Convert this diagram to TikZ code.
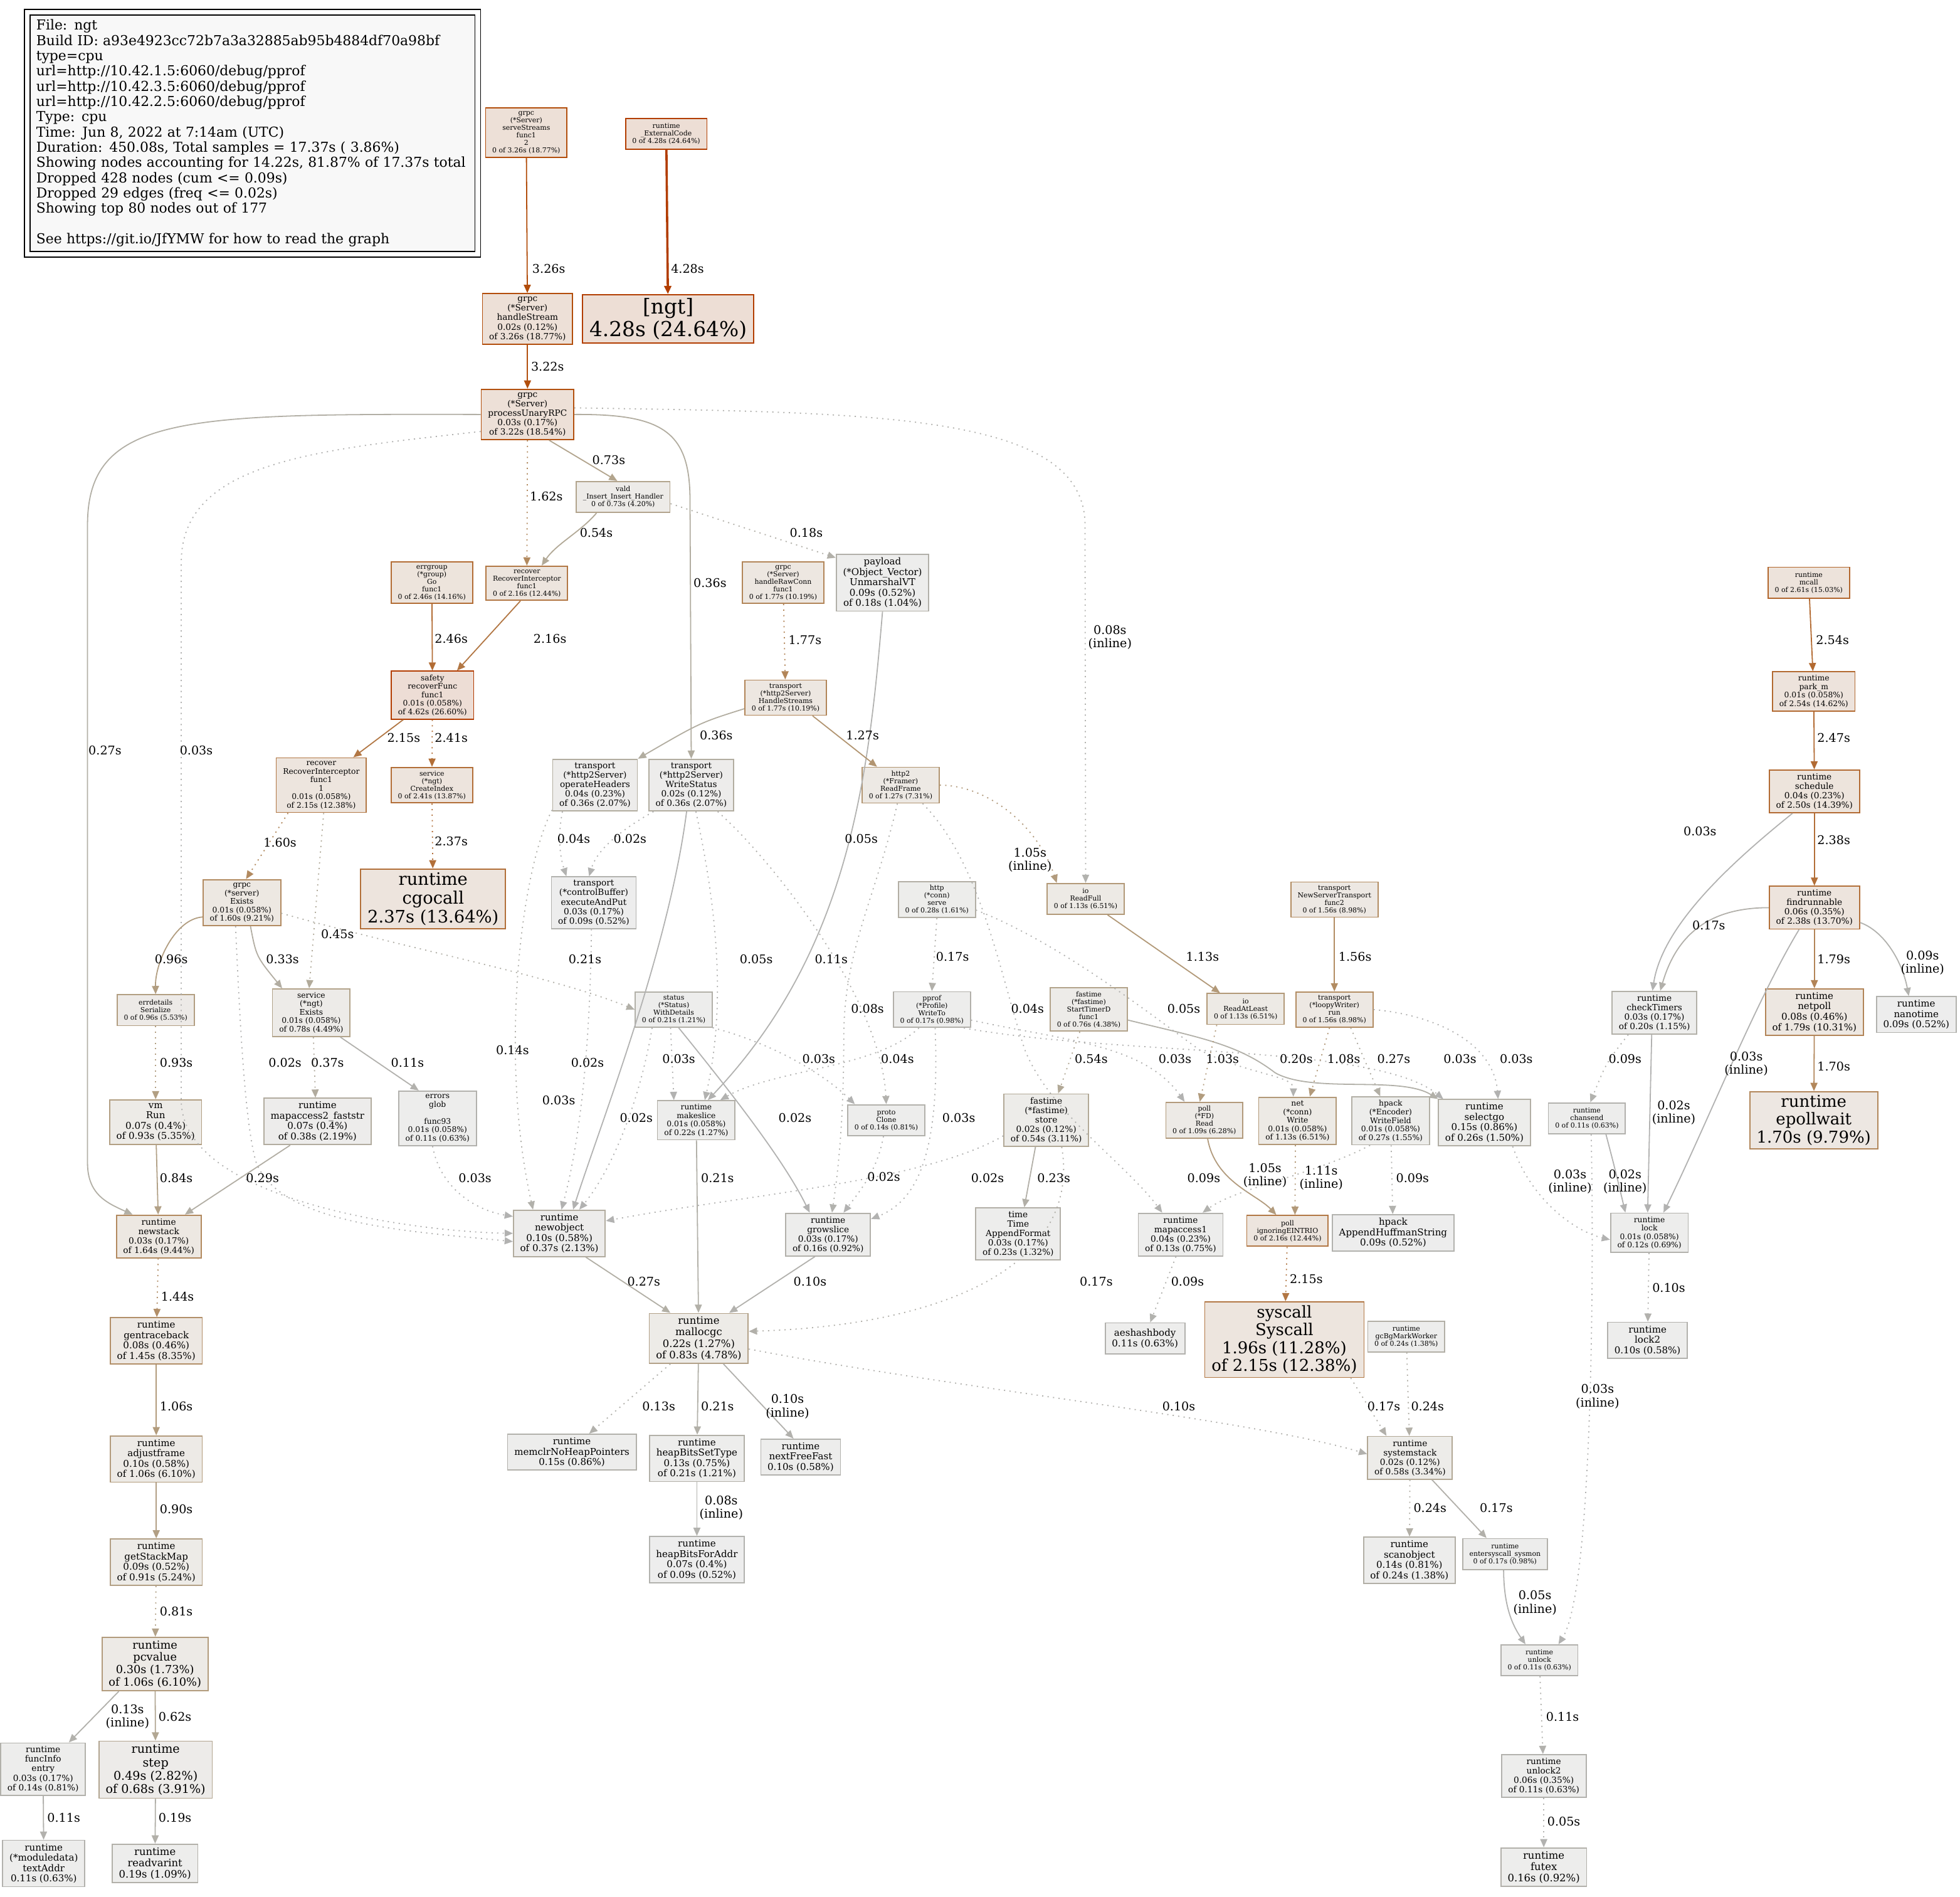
\documentclass[tikz,border=0pt]{standalone}
\usepackage{fontspec}
\setmainfont{DejaVu Serif}
\usetikzlibrary{arrows.meta}
\definecolor{legfill}{HTML}{F8F8F8}
\newcommand\pcolor[3]{%
  \pgfmathsetmacro\pcS{max(0.00001,min(1,#2))}%
  \ifnum#3=1 \def\pcSat{0.1}\def\pcVal{0.93}\else\def\pcSat{1}\def\pcVal{0.7}\fi
  \pgfmathsetmacro\pcSe{\pcS<0.2 ? \pcSat*\pcS/0.2 : \pcSat}%
  \pgfmathsetmacro\pcSh{exp(0.3*ln(\pcS))}%
  \pgfmathsetmacro\pcG{\pcVal*(1-\pcSe*\pcSh)}%
  \pgfmathsetmacro\pcB{\pcVal*(1-\pcSe)}%
  \edef\pcTmp{\noexpand\definecolor{#1}{rgb}{\pcVal,\pcG,\pcB}}\pcTmp}
\newcommand\gnode[8]{%
  \pcolor{bg#1}{#7/17.37}{1}\pcolor{fg#1}{#7/17.37}{0}%
  \pgfmathsetmacro\gnF{#6*0.343}\pgfmathsetmacro\gnB{#6*0.343*1.1}%
  \node[gbox, draw=fg#1, fill=bg#1, font=\fontsize{\gnF}{\gnB}\selectfont] (#1) at (#2,#3) {#8};}
\tikzset{
  gbox/.style={rectangle, inner xsep=2.7pt, inner ysep=1.36pt, minimum width=18.5pt, minimum height=12.35pt, align=center, line width=0.45pt, text=black},
  gedge/.style={-{Triangle[length=3.3pt,width=2.8pt]}, line width=0.45pt},
  dotl/.style={dash pattern=on 0.5pt off 1.7pt},
  ew/.code={\pcolor{ecolor}{#1/17.37}{0}\pgfkeysalso{draw=ecolor}},
  elab/.style={inner sep=0pt, align=center, font=\fontsize{4.8}{5.3}\selectfont}
}
\begin{document}
\begin{tikzpicture}[x=0.5pt,y=-0.5pt]
\fill[white] (0,0) rectangle (1568,1517);
\useasboundingbox (0,0) rectangle (1568,1517);
% legend
\node[draw, fill=legfill, line width=0.45pt, minimum width=178pt, minimum height=94.5pt, text width=173pt, align=left, inner sep=0pt, font=\fontsize{5.49}{6.1}\selectfont] (legend) at (202,106.5) {File: ngt\\Build ID: a93e4923cc72b7a3a32885ab95b4884df70a98bf\\type=cpu\\url=http://10.42.1.5:6060/debug/pprof\\url=http://10.42.3.5:6060/debug/pprof\\url=http://10.42.2.5:6060/debug/pprof\\Type: cpu\\Time: Jun 8, 2022 at 7:14am (UTC)\\Duration: 450.08s, Total samples = 17.37s ( 3.86\%)\\Showing nodes accounting for 14.22s, 81.87\% of 17.37s total\\Dropped 428 nodes (cum <= 0.09s)\\Dropped 29 edges (freq <= 0.02s)\\Showing top 80 nodes out of 177\\\mbox{}\\See https://git.io/JfYMW for how to read the graph};
\draw[line width=0.45pt] ([shift={(-4,-4)}]legend.north west) rectangle ([shift={(4,4)}]legend.south east);
% nodes
\gnode{ss}{421}{106}{64}{41}{8}{3.26}{grpc\\(*Server)\\serveStreams\\func1\\2\\0 of 3.26s (18.77\%)}
\gnode{ec}{533}{107}{64}{24}{8}{4.28}{runtime\\\_ExternalCode\\0 of 4.28s (24.64\%)}
\gnode{ngt}{534.5}{255}{131}{42}{24}{4.28}{[ngt]\\4.28s (24.64\%)}
\gnode{hs}{422}{255}{70}{42}{10}{3.26}{grpc\\(*Server)\\handleStream\\0.02s (0.12\%)\\of 3.26s (18.77\%)}
\gnode{pur}{422}{331.5}{72}{43}{10}{3.22}{grpc\\(*Server)\\processUnaryRPC\\0.03s (0.17\%)\\of 3.22s (18.54\%)}
\gnode{vald}{498.5}{397.5}{71}{25}{8}{0.73}{vald\\\_Insert\_Insert\_Handler\\0 of 0.73s (4.20\%)}
\gnode{eg}{345.5}{466}{63}{36}{8}{2.46}{errgroup\\(*group)\\Go\\func1\\0 of 2.46s (14.16\%)}
\gnode{rec}{421.5}{466.5}{63}{29}{8}{2.16}{recover\\RecoverInterceptor\\func1\\0 of 2.16s (12.44\%)}
\gnode{hrc}{626.5}{466}{63}{36}{8}{1.77}{grpc\\(*Server)\\handleRawConn\\func1\\0 of 1.77s (10.19\%)}
\gnode{pay}{706}{466}{72}{46}{11}{0.18}{payload\\(*Object\_Vector)\\UnmarshalVT\\0.09s (0.52\%)\\of 0.18s (1.04\%)}
\gnode{mcall}{1447}{466}{64}{24}{8}{2.61}{runtime\\mcall\\0 of 2.61s (15.03\%)}
\gnode{saf}{346}{556}{66}{41}{9}{4.62}{safety\\recoverFunc\\func1\\0.01s (0.058\%)\\of 4.62s (26.60\%)}
\gnode{hst}{628.5}{558}{63}{30}{8}{1.77}{transport\\(*http2Server)\\HandleStreams\\0 of 1.77s (10.19\%)}
\gnode{park}{1451}{553}{65}{33}{9}{2.54}{runtime\\park\_m\\0.01s (0.058\%)\\of 2.54s (14.62\%)}
\gnode{ci}{345.5}{628}{63}{30}{8}{2.41}{service\\(*ngt)\\CreateIndex\\0 of 2.41s (13.87\%)}
\gnode{rec1}{257}{628}{72}{46}{9}{2.15}{recover\\RecoverInterceptor\\func1\\1\\0.01s (0.058\%)\\of 2.15s (12.38\%)}
\gnode{oh}{476}{628}{66}{42}{10}{0.36}{transport\\(*http2Server)\\operateHeaders\\0.04s (0.23\%)\\of 0.36s (2.07\%)}
\gnode{ws}{553}{628}{64}{42}{10}{0.36}{transport\\(*http2Server)\\WriteStatus\\0.02s (0.12\%)\\of 0.36s (2.07\%)}
\gnode{rf}{720.5}{628}{59}{30}{8}{1.27}{http2\\(*Framer)\\ReadFrame\\0 of 1.27s (7.31\%)}
\gnode{sch}{1451.5}{633}{65}{43}{10}{2.50}{runtime\\schedule\\0.04s (0.23\%)\\of 2.50s (14.39\%)}
\gnode{cgo}{346.5}{719}{113}{52}{20}{2.37}{runtime\\cgocall\\2.37s (13.64\%)}
\gnode{eap}{475}{722}{68}{46}{10}{0.09}{transport\\(*controlBuffer)\\executeAndPut\\0.03s (0.17\%)\\of 0.09s (0.52\%)}
\gnode{http}{749.5}{719.5}{59}{29}{8}{0.28}{http\\(*conn)\\serve\\0 of 0.28s (1.61\%)}
\gnode{rfull}{868.5}{719}{59}{24}{8}{1.13}{io\\ReadFull\\0 of 1.13s (6.51\%)}
\gnode{nst}{1067.5}{719.5}{67}{29}{8}{1.56}{transport\\NewServerTransport\\func2\\0 of 1.56s (8.98\%)}
\gnode{fr}{1451.5}{726}{69}{44}{10}{2.38}{runtime\\findrunnable\\0.06s (0.35\%)\\of 2.38s (13.70\%)}
\gnode{gex}{193.5}{722}{63}{38}{9}{1.60}{grpc\\(*server)\\Exists\\0.01s (0.058\%)\\of 1.60s (9.21\%)}
\gnode{errd}{124.5}{808}{59}{22}{8}{0.96}{errdetails\\Serialize\\0 of 0.96s (5.53\%)}
\gnode{sex}{249}{810}{62}{40}{9}{0.78}{service\\(*ngt)\\Exists\\0.01s (0.058\%)\\of 0.78s (4.49\%)}
\gnode{st}{539}{807.5}{58}{29}{8}{0.21}{status\\(*Status)\\WithDetails\\0 of 0.21s (1.21\%)}
\gnode{pp}{745.5}{807.5}{59}{29}{8}{0.17}{pprof\\(*Profile)\\WriteTo\\0 of 0.17s (0.98\%)}
\gnode{fst}{871}{807.5}{60}{35}{8}{0.76}{fastime\\(*fastime)\\StartTimerD\\func1\\0 of 0.76s (4.38\%)}
\gnode{ral}{996.5}{807}{59}{24}{8}{1.13}{io\\ReadAtLeast\\0 of 1.13s (6.51\%)}
\gnode{loop}{1067.5}{807.5}{59}{29}{8}{1.56}{transport\\(*loopyWriter)\\run\\0 of 1.56s (8.98\%)}
\gnode{ct}{1323.5}{810}{65}{40}{10}{0.20}{runtime\\checkTimers\\0.03s (0.17\%)\\of 0.20s (1.15\%)}
\gnode{np}{1451.5}{809.5}{69}{39}{11}{1.79}{runtime\\netpoll\\0.08s (0.46\%)\\of 1.79s (10.31\%)}
\gnode{nano}{1533}{811.5}{62}{33}{11}{0.09}{runtime\\nanotime\\0.09s (0.52\%)}
\gnode{ep}{1451}{896}{100}{50}{19}{1.70}{runtime\\epollwait\\1.70s (9.79\%)}
\gnode{vm}{124.5}{897.5}{73}{43}{11}{0.93}{vm\\Run\\0.07s (0.4\%)\\of 0.93s (5.35\%)}
\gnode{ma2}{254}{897}{72}{42}{11}{0.38}{runtime\\mapaccess2\_faststr\\0.07s (0.4\%)\\of 0.38s (2.19\%)}
\gnode{eg2}{350}{894.5}{60}{45}{9}{0.11}{errors\\glob\\\mbox{}\\func93\\0.01s (0.058\%)\\of 0.11s (0.63\%)}
\gnode{mks}{557}{896}{62}{38}{9}{0.22}{runtime\\makeslice\\0.01s (0.058\%)\\of 0.22s (1.27\%)}
\gnode{pc}{709}{896}{60}{28}{8}{0.14}{proto\\Clone\\0 of 0.14s (0.81\%)}
\gnode{fs}{837}{896}{64}{45}{10}{0.54}{fastime\\(*fastime)\\store\\0.02s (0.12\%)\\of 0.54s (3.11\%)}
\gnode{pfr}{963.5}{896}{59}{32}{8}{1.09}{poll\\(*FD)\\Read\\0 of 1.09s (6.28\%)}
\gnode{nw}{1038}{896.5}{62}{43}{9}{1.13}{net\\(*conn)\\Write\\0.01s (0.058\%)\\of 1.13s (6.51\%)}
\gnode{hwf}{1112.5}{896.5}{61}{43}{9}{0.27}{hpack\\(*Encoder)\\WriteField\\0.01s (0.058\%)\\of 0.27s (1.55\%)}
\gnode{sel}{1187.5}{898}{63}{42}{11}{0.26}{runtime\\selectgo\\0.15s (0.86\%)\\of 0.26s (1.50\%)}
\gnode{chs}{1269.5}{894.5}{59}{24}{8}{0.11}{runtime\\chansend\\0 of 0.11s (0.63\%)}
\gnode{nsk}{127}{989}{68}{42}{10}{1.64}{runtime\\newstack\\0.03s (0.17\%)\\of 1.64s (9.44\%)}
\gnode{no}{447.5}{986.5}{83}{41}{11}{0.37}{runtime\\newobject\\0.10s (0.58\%)\\of 0.37s (2.13\%)}
\gnode{gs}{662.5}{987.5}{63}{41}{10}{0.16}{runtime\\growslice\\0.03s (0.17\%)\\of 0.16s (0.92\%)}
\gnode{taf}{814.5}{987}{65}{46}{10}{0.23}{time\\Time\\AppendFormat\\0.03s (0.17\%)\\of 0.23s (1.32\%)}
\gnode{ma1}{944.5}{987.5}{65}{41}{10}{0.13}{runtime\\mapaccess1\\0.04s (0.23\%)\\of 0.13s (0.75\%)}
\gnode{eintr}{1030}{984.5}{54}{21}{8}{2.16}{poll\\ignoringEINTRIO\\0 of 2.16s (12.44\%)}
\gnode{huff}{1114.5}{986}{93}{28}{11}{0.09}{hpack\\AppendHuffmanString\\0.09s (0.52\%)}
\gnode{lock}{1319.5}{986}{61}{34}{9}{0.12}{runtime\\lock\\0.01s (0.058\%)\\of 0.12s (0.69\%)}
\gnode{gtb}{125}{1072.5}{72}{41}{11}{1.45}{runtime\\gentraceback\\0.08s (0.46\%)\\of 1.45s (8.35\%)}
\gnode{mgc}{559}{1070.5}{76}{43}{12}{0.83}{runtime\\mallocgc\\0.22s (1.27\%)\\of 0.83s (4.78\%)}
\gnode{sys}{1027.5}{1071.5}{129}{61}{19}{2.15}{syscall\\Syscall\\1.96s (11.28\%)\\of 2.15s (12.38\%)}
\gnode{aes}{916}{1070.5}{64}{25}{11}{0.11}{aeshashbody\\0.11s (0.63\%)}
\gnode{gcw}{1125}{1069}{60}{24}{8}{0.24}{runtime\\gcBgMarkWorker\\0 of 0.24s (1.38\%)}
\gnode{lock2}{1318}{1072}{62}{30}{11}{0.10}{runtime\\lock2\\0.10s (0.58\%)}
\gnode{adj}{125}{1167}{72}{40}{11}{1.06}{runtime\\adjustframe\\0.10s (0.58\%)\\of 1.06s (6.10\%)}
\gnode{mclr}{457.5}{1161.5}{99}{27}{11}{0.15}{runtime\\memclrNoHeapPointers\\0.15s (0.86\%)}
\gnode{hbst}{557.5}{1166.5}{73}{37}{11}{0.21}{runtime\\heapBitsSetType\\0.13s (0.75\%)\\of 0.21s (1.21\%)}
\gnode{nff}{640.5}{1165.5}{59}{29}{11}{0.10}{runtime\\nextFreeFast\\0.10s (0.58\%)}
\gnode{sst}{1128}{1166}{64}{34}{10}{0.58}{runtime\\systemstack\\0.02s (0.12\%)\\of 0.58s (3.34\%)}
\gnode{gsm}{125}{1249.5}{72}{41}{11}{0.91}{runtime\\getStackMap\\0.09s (0.52\%)\\of 0.91s (5.24\%)}
\gnode{hbfa}{557.5}{1247.5}{73}{37}{11}{0.09}{runtime\\heapBitsForAddr\\0.07s (0.4\%)\\of 0.09s (0.52\%)}
\gnode{scan}{1127.5}{1248}{71}{38}{11}{0.24}{runtime\\scanobject\\0.14s (0.81\%)\\of 0.24s (1.38\%)}
\gnode{ess}{1204}{1243}{64}{24}{8}{0.17}{runtime\\entersyscall\_sysmon\\0 of 0.17s (0.98\%)}
\gnode{unl}{1231.5}{1328}{59}{26}{8}{0.11}{runtime\\unlock\\0 of 0.11s (0.63\%)}
\gnode{pcv}{124}{1331}{84}{44}{13}{1.06}{runtime\\pcvalue\\0.30s (1.73\%)\\of 1.06s (6.10\%)}
\gnode{fie}{34.5}{1415}{65}{42}{10}{0.14}{runtime\\funcInfo\\entry\\0.03s (0.17\%)\\of 0.14s (0.81\%)}
\gnode{step}{124.5}{1415.5}{89}{45}{14}{0.68}{runtime\\step\\0.49s (2.82\%)\\of 0.68s (3.91\%)}
\gnode{unl2}{1235}{1420.5}{64}{35}{10}{0.11}{runtime\\unlock2\\0.06s (0.35\%)\\of 0.11s (0.63\%)}
\gnode{ta}{35}{1490.5}{64}{37}{11}{0.11}{runtime\\(*moduledata)\\textAddr\\0.11s (0.63\%)}
\gnode{rv}{124}{1490.5}{66}{31}{12}{0.19}{runtime\\readvarint\\0.19s (1.09\%)}
\gnode{fx}{1235}{1493.5}{64}{33}{12}{0.16}{runtime\\futex\\0.16s (0.92\%)}
% edges
\draw[gedge,ew=3.26] (ss) -- (hs);
\draw[gedge,ew=4.28,line width=0.9pt] (ec) -- (ngt);
\draw[gedge,ew=3.22] (hs) -- (pur);
\draw[gedge,ew=0.73] (pur.-50) -- (vald.110);
\draw[gedge,dotl,ew=1.62] (pur.south) -- (rec.north);
\draw[gedge,ew=0.54] (vald.-149) .. controls (465,425) and (445,435) .. (rec.50);
\draw[gedge,dotl,ew=0.18] (vald.-8) -- (pay.152);
\draw[gedge,ew=0.36] (pur.east) .. controls (530,331) and (552,345) .. (552,400) -- (ws.north);
\draw[gedge,dotl,ew=0.08] (pur.8) .. controls (700,330) and (868,330) .. (868,420) -- (rfull.north);
\draw[gedge,ew=0.27] (pur.west) .. controls (150,331) and (70,331) .. (70,420) -- (70,930) .. controls (70,955) and (85,962) .. (nsk.140);
\draw[gedge,dotl,ew=0.03] (pur.200) .. controls (250,360) and (145,370) .. (145,450) -- (145,880) .. controls (145,960) and (330,985) .. (no.west);
\draw[gedge,ew=2.46] (eg) -- (saf);
\draw[gedge,ew=2.16] (rec.250) -- (saf.45);
\draw[gedge,dotl,ew=1.77] (hrc) -- (hst);
\draw[gedge,ew=0.05] (pay.south) .. controls (695,620) and (680,760) .. (mks.60);
\draw[gedge,ew=2.54] (mcall) -- (park);
\draw[gedge,ew=2.15] (saf.220) -- (rec1.41);
\draw[gedge,dotl,ew=2.41] (saf) -- (ci);
\draw[gedge,ew=0.36] (hst.195) .. controls (560,578) .. (oh.north east);
\draw[gedge,ew=1.27] (hst.-34) -- (rf.142);
\draw[gedge,ew=2.47] (park) -- (sch);
\draw[gedge,dotl,ew=2.37] (ci) -- (cgo);
\draw[gedge,dotl,ew=1.60] (rec1.220) -- (gex.80);
\draw[gedge,dotl,ew=0.45] (rec1.-85) -- (sex.95);
\draw[gedge,dotl,ew=0.04] (oh.-141) .. controls (446,670) and (448,685) .. (eap.136);
\draw[gedge,dotl,ew=0.02] (ws.-145) .. controls (500,662) and (478,678) .. (eap.100);
\draw[gedge,ew=0.03] (sch.225) .. controls (1385,690) and (1330,740) .. (ct.95);
\draw[gedge,ew=2.38] (sch) -- (fr);
\draw[gedge,dotl,ew=1.05] (rf.east) .. controls (790,628) and (830,660) .. (rfull.151);
\draw[gedge,ew=1.13] (rfull.-36) -- (ral.148);
\draw[gedge,ew=1.56] (nst) -- (loop);
\draw[gedge,dotl,ew=0.17] (http.south) -- (pp.north);
\draw[gedge,ew=0.17] (fr.west) .. controls (1370,726) and (1342,745) .. (ct.75);
\draw[gedge,ew=1.79] (fr) -- (np);
\draw[gedge,ew=0.09] (fr.-18) .. controls (1508,745) and (1522,770) .. (nano.112);
\draw[gedge,ew=0.03] (fr.235) .. controls (1405,800) and (1365,900) .. (lock.55);
\draw[gedge,ew=0.96] (gex.200) .. controls (140,735) and (124,770) .. (errd.north);
\draw[gedge,ew=0.33] (gex.-70) .. controls (205,765) .. (sex.140);
\draw[gedge,dotl,ew=0.21] (gex.-15) .. controls (330,760) and (440,780) .. (st.west);
\draw[gedge,dotl,ew=0.02] (gex.-105) .. controls (192,820) and (196,900) .. (205,930) .. controls (225,980) and (330,985) .. (no.190);
\draw[gedge,dotl,ew=0.14] (oh.-150) .. controls (415,700) and (400,850) .. (no.138);
\draw[gedge,ew=0.02] (ws.-100) .. controls (535,760) and (480,900) .. (no.60);
\draw[gedge,dotl,ew=0.05] (ws.-80) .. controls (572,720) and (582,800) .. (mks.67);
\draw[gedge,dotl,ew=0.11] (ws.-45) .. controls (620,690) and (705,800) .. (pc.north);
\draw[gedge,dotl,ew=0.02] (st.-140) .. controls (512,880) and (490,935) .. (no.50);
\draw[gedge,dotl,ew=0.03] (st.-100) -- (mks.138);
\draw[gedge,dotl,ew=0.03] (st.-25) .. controls (620,835) and (660,860) .. (pc.153);
\draw[gedge,ew=0.02] (st.-75) .. controls (590,880) and (628,930) .. (gs.130);
\draw[gedge,dotl,ew=0.04] (pp.-125) .. controls (700,855) and (620,855) .. (mks.40);
\draw[gedge,dotl,ew=0.03] (pp.-80) .. controls (752,920) and (735,960) .. (gs.20);
\draw[gedge,dotl,ew=0.02] (pc.-100) .. controls (702,935) and (690,950) .. (gs.55);
\draw[gedge,dotl,ew=0.03] (pp.-15) .. controls (850,832) and (915,835) .. (pfr.137);
\draw[gedge,dotl,ew=0.03] (pp.-30) .. controls (900,845) and (1100,835) .. (sel.150);
\draw[gedge,dotl,ew=0.08] (rf.-100) .. controls (700,720) and (675,760) .. (675,830) .. controls (675,900) and (670,940) .. (gs.80);
\draw[gedge,dotl,ew=0.04] (rf.-40) .. controls (785,690) and (800,780) .. (820,840) .. controls (840,890) and (900,930) .. (ma1.130);
\draw[gedge,dotl,ew=0.54] (fst.-112) -- (fs.66);
\draw[gedge,ew=0.20] (fst.-15) .. controls (960,830) and (990,835) .. (1020,858) .. controls (1050,875) and (1120,860) .. (sel.north west);
\draw[gedge,dotl,ew=1.03] (ral.-151) -- (pfr.104);
\draw[gedge,dotl,ew=0.05] (http.-15) .. controls (850,755) and (925,815) .. (960,840) .. controls (1000,860) and (1035,860) .. (nw.100);
\draw[gedge,dotl,ew=1.08] (loop.-105) -- (nw.63);
\draw[gedge,dotl,ew=0.27] (loop.-48) -- (hwf.113);
\draw[gedge,dotl,ew=0.03] (loop.east) .. controls (1150,812) and (1195,835) .. (sel.60);
\draw[gedge,dotl,ew=1.11] (nw.-95) -- (eintr.65);
\draw[gedge,ew=1.05] (pfr.-80) .. controls (972,945) and (1005,955) .. (eintr.125);
\draw[gedge,dotl,ew=2.15] (eintr) -- (sys);
\draw[gedge,dotl,ew=0.17] (sys.-30) -- (sst.137);
\draw[gedge,dotl,ew=0.24] (gcw) -- (sst);
\draw[gedge,dotl,ew=0.10] (mgc.-12) .. controls (760,1110) and (1000,1135) .. (sst.175);
\draw[gedge,dotl,ew=0.24] (sst) -- (scan);
\draw[gedge,ew=0.17] (sst.-45) -- (ess.139);
\draw[gedge,ew=0.05] (ess.-95) .. controls (1203,1285) and (1210,1300) .. (unl.131);
\draw[gedge,dotl,ew=0.03] (chs.-75) .. controls (1275,1000) and (1275,1270) .. (unl.40);
\draw[gedge,dotl,ew=0.09] (ct.-140) .. controls (1285,850) .. (chs.78);
\draw[gedge,ew=0.02] (ct.-97) -- (lock.95);
\draw[gedge,ew=0.02] (chs.-40) .. controls (1292,935) .. (lock.140);
\draw[gedge,dotl,ew=0.03] (sel.-40) .. controls (1225,960) and (1260,985) .. (lock.190);
\draw[gedge,dotl,ew=0.10] (lock) -- (lock2);
\draw[gedge,dotl,ew=0.11] (unl) -- (unl2);
\draw[gedge,dotl,ew=0.05] (unl2) -- (fx);
\draw[gedge,ew=1.70] (np) -- (ep);
\draw[gedge,dotl,ew=0.93] (errd) -- (vm);
\draw[gedge,ew=0.84] (vm) -- (nsk);
\draw[gedge,ew=0.29] (ma2.-139) -- (nsk.40);
\draw[gedge,dotl,ew=0.37] (sex.-85) -- (ma2.95);
\draw[gedge,ew=0.11] (sex.-40) -- (eg2.124);
\draw[gedge,dotl,ew=0.03] (eg2.-100) .. controls (352,950) and (380,968) .. (no.160);
\draw[gedge,dotl,ew=0.03] (eap.-95) .. controls (472,850) and (462,920) .. (no.85);
\draw[gedge,dotl,ew=1.44] (nsk) -- (gtb);
\draw[gedge,ew=1.06] (gtb) -- (adj);
\draw[gedge,ew=0.90] (adj) -- (gsm);
\draw[gedge,dotl,ew=0.81] (gsm) -- (pcv);
\draw[gedge,ew=0.13] (pcv.-143) -- (fie.46);
\draw[gedge,ew=0.62] (pcv) -- (step);
\draw[gedge,ew=0.11] (fie) -- (ta);
\draw[gedge,ew=0.19] (step) -- (rv);
\draw[gedge,ew=0.27] (no.-42) -- (mgc.138);
\draw[gedge,ew=0.21] (mks) -- (mgc);
\draw[gedge,ew=0.10] (gs.-121) -- (mgc.40);
\draw[gedge,ew=0.23] (fs.-112) -- (taf.77);
\draw[gedge,dotl,ew=0.17] (fs.-60) .. controls (865,1010) and (760,1060) .. (mgc.8);
\draw[gedge,dotl,ew=0.02] (fs.-160) .. controls (740,945) and (600,955) .. (no.15);
\draw[gedge,dotl,ew=0.13] (mgc.-138) -- (mclr.47);
\draw[gedge,ew=0.21] (mgc) -- (hbst);
\draw[gedge,ew=0.10] (mgc.-46) -- (nff.111);
\draw[gedge,ew=0.08] (hbst) -- (hbfa);
\draw[gedge,dotl,ew=0.09] (ma1.-102) -- (aes.72);
\draw[gedge,dotl,ew=0.09] (hwf.-130) .. controls (1050,940) and (990,950) .. (ma1.45);
\draw[gedge,dotl,ew=0.09] (hwf) -- (huff);
% edge labels
\node[elab] (l01) at (439,215) {3.26s};
\node[elab] (l02) at (550,215) {4.28s};
\node[elab] (l03) at (438,293) {3.22s};
\node[elab] (l04) at (487,368) {0.73s};
\node[elab] (l05) at (437,397) {1.62s};
\node[elab] (l06) at (477,426) {0.54s};
\node[elab] (l07) at (645,426) {0.18s};
\node[elab] (l08) at (568,466) {0.36s};
\node[elab] (l09) at (888,510) {0.08s\\(inline)};
\node[elab] (l10) at (84,600) {0.27s};
\node[elab] (l11) at (157,600) {0.03s};
\node[elab] (l12) at (361,511) {2.46s};
\node[elab] (l13) at (440,511) {2.16s};
\node[elab] (l14) at (644,512) {1.77s};
\node[elab] (l15) at (689,671) {0.05s};
\node[elab] (l16) at (1466,512) {2.54s};
\node[elab] (l17) at (323,590) {2.15s};
\node[elab] (l18) at (361,590) {2.41s};
\node[elab] (l19) at (573,588) {0.36s};
\node[elab] (l20) at (690,588) {1.27s};
\node[elab] (l21) at (1467,590) {2.47s};
\node[elab] (l22) at (361,673) {2.37s};
\node[elab] (l23) at (224,674) {1.60s};
\node[elab] (l24) at (270,747) {0.45s};
\node[elab] (l25) at (459,671) {0.04s};
\node[elab] (l26) at (504,671) {0.02s};
\node[elab] (l27) at (1360,665) {0.03s};
\node[elab] (l28) at (1467,672) {2.38s};
\node[elab] (l29) at (824,688) {1.05s\\(inline)};
\node[elab] (l30) at (962,765) {1.13s};
\node[elab] (l31) at (1084,765) {1.56s};
\node[elab] (l32) at (762,765) {0.17s};
\node[elab] (l33) at (1367,740) {0.17s};
\node[elab] (l34) at (1467,767) {1.79s};
\node[elab] (l35) at (1538,770) {0.09s\\(inline)};
\node[elab] (l36) at (1397,851) {0.03s\\(inline)};
\node[elab] (l37) at (137,767) {0.96s};
\node[elab] (l38) at (226,767) {0.33s};
\node[elab] (l39) at (468,767) {0.21s};
\node[elab] (l40) at (228,850) {0.02s};
\node[elab] (l41) at (410,840) {0.14s};
\node[elab] (l42) at (470,850) {0.02s};
\node[elab] (l43) at (605,767) {0.05s};
\node[elab] (l44) at (665,767) {0.11s};
\node[elab] (l45) at (509,894) {0.02s};
\node[elab] (l46) at (543,847) {0.03s};
\node[elab] (l47) at (655,847) {0.03s};
\node[elab] (l48) at (636,894) {0.02s};
\node[elab] (l49) at (718,847) {0.04s};
\node[elab] (l50) at (767,894) {0.03s};
\node[elab] (l51) at (940,847) {0.03s};
\node[elab] (l52) at (1168,847) {0.03s};
\node[elab] (l53) at (694,807) {0.08s};
\node[elab] (l54) at (822,807) {0.04s};
\node[elab] (l55) at (873,847) {0.54s};
\node[elab] (l56) at (1037,847) {0.20s};
\node[elab] (l57) at (978,847) {1.03s};
\node[elab] (l58) at (947,807) {0.05s};
\node[elab] (l59) at (1075,847) {1.08s};
\node[elab] (l60) at (1115,847) {0.27s};
\node[elab] (l61) at (1213,847) {0.03s};
\node[elab] (l62) at (1057,942) {1.11s\\(inline)};
\node[elab] (l63) at (1012,940) {1.05s\\(inline)};
\node[elab] (l64) at (1045,1023) {2.15s};
\node[elab] (l65) at (1107,1125) {0.17s};
\node[elab] (l66) at (1142,1125) {0.24s};
\node[elab] (l67) at (943,1125) {0.10s};
\node[elab] (l68) at (1144,1206) {0.24s};
\node[elab] (l69) at (1197,1206) {0.17s};
\node[elab] (l70) at (1228,1282) {0.05s\\(inline)};
\node[elab] (l71) at (1278,1117) {0.03s\\(inline)};
\node[elab] (l72) at (1300,847) {0.09s};
\node[elab] (l73) at (1339,890) {0.02s\\(inline)};
\node[elab] (l74) at (1300,945) {0.02s\\(inline)};
\node[elab] (l75) at (1256,945) {0.03s\\(inline)};
\node[elab] (l76) at (1335,1030) {0.10s};
\node[elab] (l77) at (1250,1373) {0.11s};
\node[elab] (l78) at (1251,1457) {0.05s};
\node[elab] (l79) at (1467,853) {1.70s};
\node[elab] (l80) at (141,850) {0.93s};
\node[elab] (l81) at (141,942) {0.84s};
\node[elab] (l82) at (210,942) {0.29s};
\node[elab] (l83) at (262,850) {0.37s};
\node[elab] (l84) at (326,850) {0.11s};
\node[elab] (l85) at (380,942) {0.03s};
\node[elab] (l86) at (447,880) {0.03s};
\node[elab] (l87) at (142,1037) {1.44s};
\node[elab] (l88) at (141,1125) {1.06s};
\node[elab] (l89) at (141,1207) {0.90s};
\node[elab] (l90) at (141,1289) {0.81s};
\node[elab] (l91) at (102,1373) {0.13s\\(inline)};
\node[elab] (l92) at (140,1373) {0.62s};
\node[elab] (l93) at (51,1454) {0.11s};
\node[elab] (l94) at (140,1454) {0.19s};
\node[elab] (l95) at (515,1025) {0.27s};
\node[elab] (l96) at (574,942) {0.21s};
\node[elab] (l97) at (648,1025) {0.10s};
\node[elab] (l98) at (843,942) {0.23s};
\node[elab] (l99) at (877,1025) {0.17s};
\node[elab] (m01) at (790,942) {0.02s};
\node[elab] (m02) at (527,1125) {0.13s};
\node[elab] (m03) at (574,1125) {0.21s};
\node[elab] (m04) at (630,1125) {0.10s\\(inline)};
\node[elab] (m05) at (577,1206) {0.08s\\(inline)};
\node[elab] (m06) at (950,1025) {0.09s};
\node[elab] (m07) at (963,942) {0.09s};
\node[elab] (m08) at (1130,942) {0.09s};
\node[elab] (m09) at (707,941) {0.02s};
\end{tikzpicture}
\end{document}
